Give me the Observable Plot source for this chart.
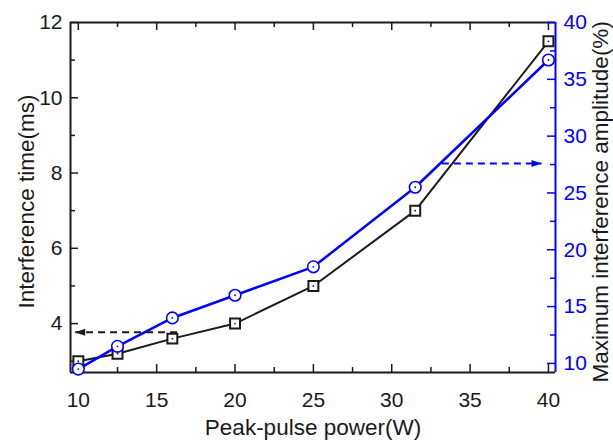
<!DOCTYPE html>
<html>
<head>
<meta charset="utf-8">
<script src="https://cdn.jsdelivr.net/npm/d3@7"></script>
<script src="https://cdn.jsdelivr.net/npm/@observablehq/plot@0.6"></script>
<style>
  html, body { margin: 0; padding: 0; background: #fff; }
</style>
</head>
<body>
<div id="chart"></div>
<script>
// Data
const power = [10, 12.5, 16, 20, 25, 31.5, 40];
const interferenceTime = [3.0, 3.2, 3.6, 4.0, 5.0, 7.0, 11.5];
const maxAmplitude = [9.5, 11.5, 14.0, 16.0, 18.5, 25.5, 36.7];

const xMajor = [10, 15, 20, 25, 30, 35, 40];
const xMinor = [12.5, 17.5, 22.5, 27.5, 32.5, 37.5];
const leftMajor = [4, 6, 8, 10, 12];
const leftMinor = [3, 5, 7, 9, 11];
const rightMajor = [10, 15, 20, 25, 30, 35, 40];
const rightMinor = [12.5, 17.5, 22.5, 27.5, 32.5, 37.5];

// Annotation arrows
const arrowLeft = {x1: 16.3, x2: 9.8, y: 3.77};     // left axis units
const arrowRight = {x1: 33.2, x2: 39.56, y: 27.6};  // right axis units

const xDomain = [9.5, 40.45];
const leftDomain = [2.7, 12];
const rightDomain = [9.2, 40];

const toL = v => leftDomain[0] + (v - rightDomain[0]) * (leftDomain[1] - leftDomain[0]) / (rightDomain[1] - rightDomain[0]);
const fromL = v => rightDomain[0] + (v - leftDomain[0]) * (rightDomain[1] - rightDomain[0]) / (leftDomain[1] - leftDomain[0]);

const W = 613, H = 441;
const mt = 22, mr = 58, mb = 69, ml = 70;
const pw = W - ml - mr, ph = H - mt - mb;
const BLUE = "#0000ff";
const INK = "#1a1a1a";
const TICKFS = 21, TITLEFS = 22.5;

const blackData = power.map((p, i) => ({x: p, y: interferenceTime[i]}));
const blueData = power.map((p, i) => ({x: p, y: toL(maxAmplitude[i])}));

const leftHead = {draw(ctx) { ctx.moveTo(0, 0); ctx.lineTo(10, -3.5); ctx.lineTo(10, 3.5); ctx.closePath(); }};
const rightHead = {draw(ctx) { ctx.moveTo(0, 0); ctx.lineTo(-10, -3.5); ctx.lineTo(-10, 3.5); ctx.closePath(); }};

const chart = Plot.plot({
  width: W, height: H,
  marginTop: mt, marginRight: mr, marginBottom: mb, marginLeft: ml,
  style: {fontFamily: "Arial, 'Liberation Sans', sans-serif", fontSize: "20px", background: "#fff", overflow: "visible"},
  x: {domain: xDomain, axis: null},
  y: {domain: leftDomain, axis: null},
  marks: [
    // frame
    Plot.ruleX([xDomain[0]], {stroke: INK, strokeWidth: 2}),
    Plot.ruleY([leftDomain[0], leftDomain[1]], {stroke: INK, strokeWidth: 2}),
    Plot.ruleX([xDomain[1]], {stroke: BLUE, strokeWidth: 2}),
    // inward ticks bottom/top
    Plot.tickX(xMajor, {x: d => d, insetTop: ph - 8, stroke: INK, strokeWidth: 1.5}),
    Plot.tickX(xMinor, {x: d => d, insetTop: ph - 5, stroke: INK, strokeWidth: 1.5}),
    Plot.tickX(xMajor, {x: d => d, insetBottom: ph - 8, stroke: INK, strokeWidth: 1.5}),
    Plot.tickX(xMinor, {x: d => d, insetBottom: ph - 5, stroke: INK, strokeWidth: 1.5}),
    // left ticks
    Plot.tickY(leftMajor, {y: d => d, insetRight: pw - 8, stroke: INK, strokeWidth: 1.5}),
    Plot.tickY(leftMinor, {y: d => d, insetRight: pw - 5, stroke: INK, strokeWidth: 1.5}),
    // right ticks
    Plot.tickY(rightMajor, {y: d => toL(d), insetLeft: pw - 8, stroke: BLUE, strokeWidth: 1.5}),
    Plot.tickY(rightMinor, {y: d => toL(d), insetLeft: pw - 5, stroke: BLUE, strokeWidth: 1.5}),
    // tick labels
    Plot.axisX({ticks: xMajor, tickSize: 0, tickPadding: 20, fontSize: TICKFS, label: null, fill: INK}),
    Plot.axisY({anchor: "left", ticks: leftMajor, tickSize: 0, tickPadding: 8, fontSize: TICKFS, label: null, fill: INK}),
    Plot.axisY({anchor: "right", ticks: rightMajor.map(toL), tickFormat: d => Math.round(fromL(d)), tickSize: 0, tickPadding: 8, fontSize: TICKFS, label: null, fill: BLUE}),
    // axis titles
    Plot.text(["Peak-pulse power(W)"], {frameAnchor: "bottom", text: d => d, textAnchor: "middle", lineAnchor: "middle", dy: 55, fontSize: TITLEFS, fill: INK}),
    Plot.text(["Interference time(ms)"], {frameAnchor: "left", text: d => d, rotate: -90, textAnchor: "middle", lineAnchor: "middle", dx: -44, dy: 4, fontSize: TITLEFS, fill: INK}),
    Plot.text(["Maximum interference amplitude(%)"], {frameAnchor: "bottom-right", text: d => d, rotate: -90, textAnchor: "start", lineAnchor: "middle", dx: 45, dy: 10, fontSize: 22.5, fill: INK}),
    // dashed arrows
    Plot.link([arrowLeft], {x1: "x1", x2: "x2", y1: "y", y2: "y", stroke: INK, strokeWidth: 2, strokeDasharray: "7,5"}),
    Plot.dot([arrowLeft], {x: "x2", y: "y", symbol: leftHead, fill: INK, stroke: "none"}),
    Plot.link([arrowRight], {x1: "x1", x2: "x2", y1: d => toL(d.y), y2: d => toL(d.y), stroke: BLUE, strokeWidth: 2, strokeDasharray: "7,5"}),
    Plot.dot([arrowRight], {x: "x2", y: d => toL(d.y), symbol: rightHead, fill: BLUE, stroke: "none"}),
    // series
    Plot.line(blackData, {x: "x", y: "y", stroke: INK, strokeWidth: 2}),
    Plot.line(blueData, {x: "x", y: "y", stroke: BLUE, strokeWidth: 2.5}),
    Plot.dot(blackData, {x: "x", y: "y", symbol: "square", r: 5.6, fill: "#fff", stroke: INK, strokeWidth: 2}),
    Plot.dot(blackData, {x: "x", y: "y", r: 0.9, fill: INK, stroke: "none"}),
    Plot.dot(blueData, {x: "x", y: "y", symbol: "circle", r: 5.8, fill: "#fff", stroke: BLUE, strokeWidth: 1.6}),
    Plot.dot(blueData, {x: "x", y: "y", r: 0.9, fill: BLUE, stroke: "none"})
  ]
});
document.getElementById("chart").appendChild(chart);
</script>
</body>
</html>
